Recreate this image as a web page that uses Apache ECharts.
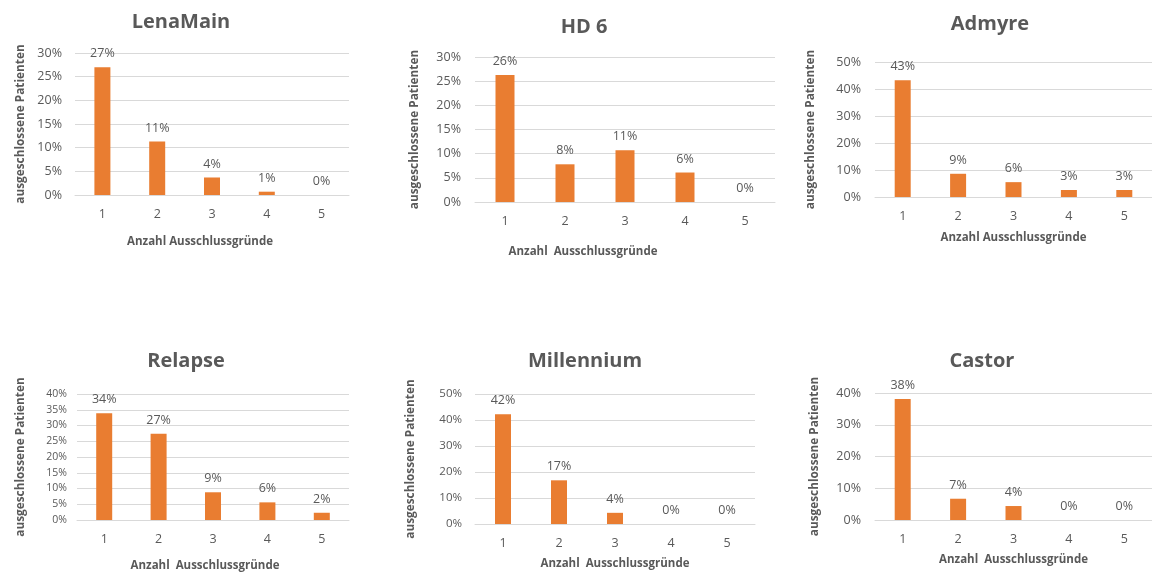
<!DOCTYPE html>
<html>
<head>
<meta charset="utf-8">
<script src="https://cdn.jsdelivr.net/npm/echarts@6/dist/echarts.min.js"></script>
<style>
  html, body { margin: 0; padding: 0; background: #ffffff; }
  #chart { width: 1152px; height: 576px; }
</style>
</head>
<body>
<div id="chart"></div>
<script>
// Anteil ausgeschlossener Patienten nach Anzahl der Ausschlussgründe, je Studie
const categories = ['1', '2', '3', '4', '5'];

const lenaMain   = [0.270, 0.113, 0.037, 0.007, 0.000];
const hd6        = [0.263, 0.078, 0.107, 0.061, 0.000];
const admyre     = [0.432, 0.086, 0.055, 0.026, 0.026];
const relapse    = [0.339, 0.274, 0.088, 0.056, 0.023];
const millennium = [0.422, 0.168, 0.043, 0.000, 0.000];
const castor     = [0.381, 0.067, 0.044, 0.000, 0.000];

const studyNames = ['LenaMain', 'HD 6', 'Admyre', 'Relapse', 'Millennium', 'Castor'];
const xAxisTitles = [
  'Anzahl Ausschlussgründe',
  'Anzahl  Ausschlussgründe',
  'Anzahl Ausschlussgründe',
  'Anzahl  Ausschlussgründe',
  'Anzahl  Ausschlussgründe',
  'Anzahl  Ausschlussgründe'
];
const yAxisTitle = 'ausgeschlossene Patienten';
const yMax  = [0.30, 0.30, 0.50, 0.40, 0.50, 0.40];
const yStep = [0.05, 0.05, 0.10, 0.05, 0.10, 0.10];

const seriesValues = [lenaMain, hd6, admyre, relapse, millennium, castor];

// Panel layout (pixels)
const panels = [
  { left: 75,  top: 53,  width: 274, height: 142, titleX: 181, titleY: 22,  barW: 16, tickFont: 12.5, yLabelMargin: 13, yNameGap: 48, xNameGap: 41, xNameShift: 12 },
  { left: 475, top: 57,  width: 300, height: 145, titleX: 584, titleY: 27,  barW: 19, tickFont: 12.5, yLabelMargin: 14, yNameGap: 54, xNameGap: 44, xNameShift: 42 },
  { left: 875, top: 62,  width: 278, height: 135, titleX: 990, titleY: 24,  barW: 16, tickFont: 12.5, yLabelMargin: 14, yNameGap: 58, xNameGap: 35, xNameShift: 0 },
  { left: 77,  top: 394, width: 272, height: 126, titleX: 186, titleY: 361, barW: 16, tickFont: 10.5, yLabelMargin: 10, yNameGap: 50, xNameGap: 40, xNameShift: 8 },
  { left: 475, top: 394, width: 280, height: 130, titleX: 585, titleY: 361, barW: 16, tickFont: 11.5, yLabelMargin: 13, yNameGap: 58, xNameGap: 34, xNameShift: 0 },
  { left: 875, top: 393, width: 277, height: 127, titleX: 982, titleY: 361, barW: 16, tickFont: 12.5, yLabelMargin: 14, yNameGap: 54, xNameGap: 34, xNameShift: 0 }
];

const FONT = '"Open Sans", "Liberation Sans", sans-serif';
const TEXT_GREY = '#595959';
const GRID_GREY = '#d9d9d9';
const BAR_ORANGE = '#e97d31';

const pct = v => Math.round(v * 100) + '%';

const grids = [], xAxes = [], yAxes = [], series = [], graphics = [];

panels.forEach((p, i) => {
  grids.push({ left: p.left, top: p.top, width: p.width, height: p.height, containLabel: false });

  xAxes.push({
    type: 'category',
    gridIndex: i,
    data: categories,
    axisLine: { show: true, lineStyle: { color: GRID_GREY, width: 1 } },
    axisTick: { show: false },
    axisLabel: { color: TEXT_GREY, fontFamily: FONT, fontSize: 12.5, margin: 13 },
    name: xAxisTitles[i],
    nameLocation: 'middle',
    nameGap: p.xNameGap,
    nameTextStyle: {
      color: TEXT_GREY, fontFamily: FONT, fontSize: 11.5, fontWeight: 'bold',
      padding: [0, p.xNameShift * 2, 0, 0]
    }
  });

  yAxes.push({
    type: 'value',
    gridIndex: i,
    min: 0,
    max: yMax[i],
    interval: yStep[i],
    axisLine: { show: false },
    axisTick: { show: false },
    splitLine: { show: true, lineStyle: { color: GRID_GREY, width: 1 } },
    axisLabel: {
      color: TEXT_GREY, fontFamily: FONT, fontSize: p.tickFont, margin: p.yLabelMargin,
      formatter: v => pct(v)
    },
    name: yAxisTitle,
    nameLocation: 'middle',
    nameRotate: 90,
    nameGap: p.yNameGap,
    nameTextStyle: { color: TEXT_GREY, fontFamily: FONT, fontSize: 11.8, fontWeight: 'bold' }
  });

  series.push({
    type: 'bar',
    name: studyNames[i],
    xAxisIndex: i,
    yAxisIndex: i,
    data: seriesValues[i],
    barWidth: p.barW,
    itemStyle: { color: BAR_ORANGE },
    label: {
      show: true,
      position: 'top',
      distance: 7,
      color: TEXT_GREY,
      fontFamily: FONT,
      fontSize: 12.5,
      formatter: d => pct(d.value)
    },
    emphasis: { disabled: true },
    animation: false
  });

  graphics.push({
    type: 'text',
    x: p.titleX,
    y: p.titleY,
    style: {
      text: studyNames[i],
      fill: TEXT_GREY,
      font: 'bold 20px ' + FONT,
      align: 'center',
      verticalAlign: 'middle',
      textAlign: 'center',
      textVerticalAlign: 'middle'
    }
  });
});

const chart = echarts.init(document.getElementById('chart'), null, { renderer: 'canvas' });
chart.setOption({
  backgroundColor: '#ffffff',
  animation: false,
  grid: grids,
  xAxis: xAxes,
  yAxis: yAxes,
  series: series,
  graphic: graphics
});
</script>
</body>
</html>
